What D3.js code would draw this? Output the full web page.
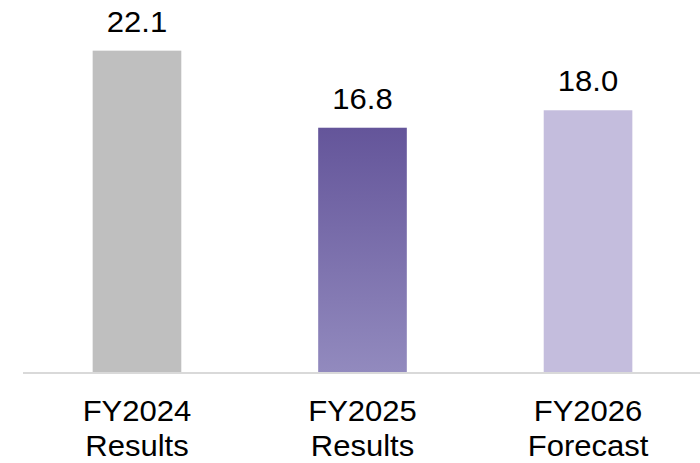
<!DOCTYPE html>
<html>
<head>
<meta charset="utf-8">
<script src="https://cdn.jsdelivr.net/npm/d3@7"></script>
<style>
  html, body { margin: 0; padding: 0; background: #fff; }
  svg { display: block; }
  text { font-family: "Liberation Sans", Arial, sans-serif; fill: #000; }
</style>
</head>
<body>
<svg id="chart" width="700" height="463"></svg>
<script>
// Fiscal-year values
const years = ["FY2024", "FY2025", "FY2026"];
const kinds = ["Results", "Results", "Forecast"];
const values = [22.1, 16.8, 18.0];

const W = 700, H = 463;
const baseY = 372;
const stretch = 1.07; // slightly wide lettering
const svg = d3.select("#chart");

const x = d3.scaleBand()
  .domain(years)
  .range([25, 700])
  .paddingInner(0.607)
  .paddingOuter(0.3);

const y = d3.scaleLinear()
  .domain([0, 25])
  .range([baseY, baseY - 25 * 14.54]);

// Gradient for the FY2025 bar
const defs = svg.append("defs");
const grad = defs.append("linearGradient")
  .attr("id", "gradMid")
  .attr("x1", 0).attr("y1", 0).attr("x2", 0).attr("y2", 1);
grad.append("stop").attr("offset", "0%").attr("stop-color", "#64559a");
grad.append("stop").attr("offset", "100%").attr("stop-color", "#928abe");

const fills = ["#bfbfbf", "url(#gradMid)", "#c4bddd"];

svg.selectAll("rect.bar")
  .data(values)
  .join("rect")
  .attr("class", "bar")
  .attr("x", (d, i) => x(years[i]))
  .attr("width", x.bandwidth())
  .attr("y", d => y(d))
  .attr("height", d => y(0) - y(d))
  .attr("fill", (d, i) => fills[i]);

// Baseline
svg.append("line")
  .attr("x1", 23).attr("x2", 700)
  .attr("y1", baseY + 1).attr("y2", baseY + 1)
  .attr("stroke", "#d9d9d9")
  .attr("stroke-width", 2);

const cx = name => x(name) + x.bandwidth() / 2;

// Value labels
svg.selectAll("text.val")
  .data(values)
  .join("text")
  .attr("class", "val")
  .attr("transform", (d, i) => `translate(${cx(years[i])},${y(d) - 19}) scale(${stretch},1)`)
  .attr("text-anchor", "middle")
  .attr("font-size", 29)
  .text(d => d.toFixed(1));

// Category labels (two lines)
const cat = svg.selectAll("text.cat")
  .data(years)
  .join("text")
  .attr("class", "cat")
  .attr("transform", d => `translate(${cx(d)},0) scale(${stretch},1)`)
  .attr("text-anchor", "middle")
  .attr("font-size", 29);
cat.append("tspan")
  .attr("x", 0)
  .attr("y", 421)
  .text(d => d);
cat.append("tspan")
  .attr("x", 0)
  .attr("y", 456)
  .text((d, i) => kinds[i]);
</script>
</body>
</html>
